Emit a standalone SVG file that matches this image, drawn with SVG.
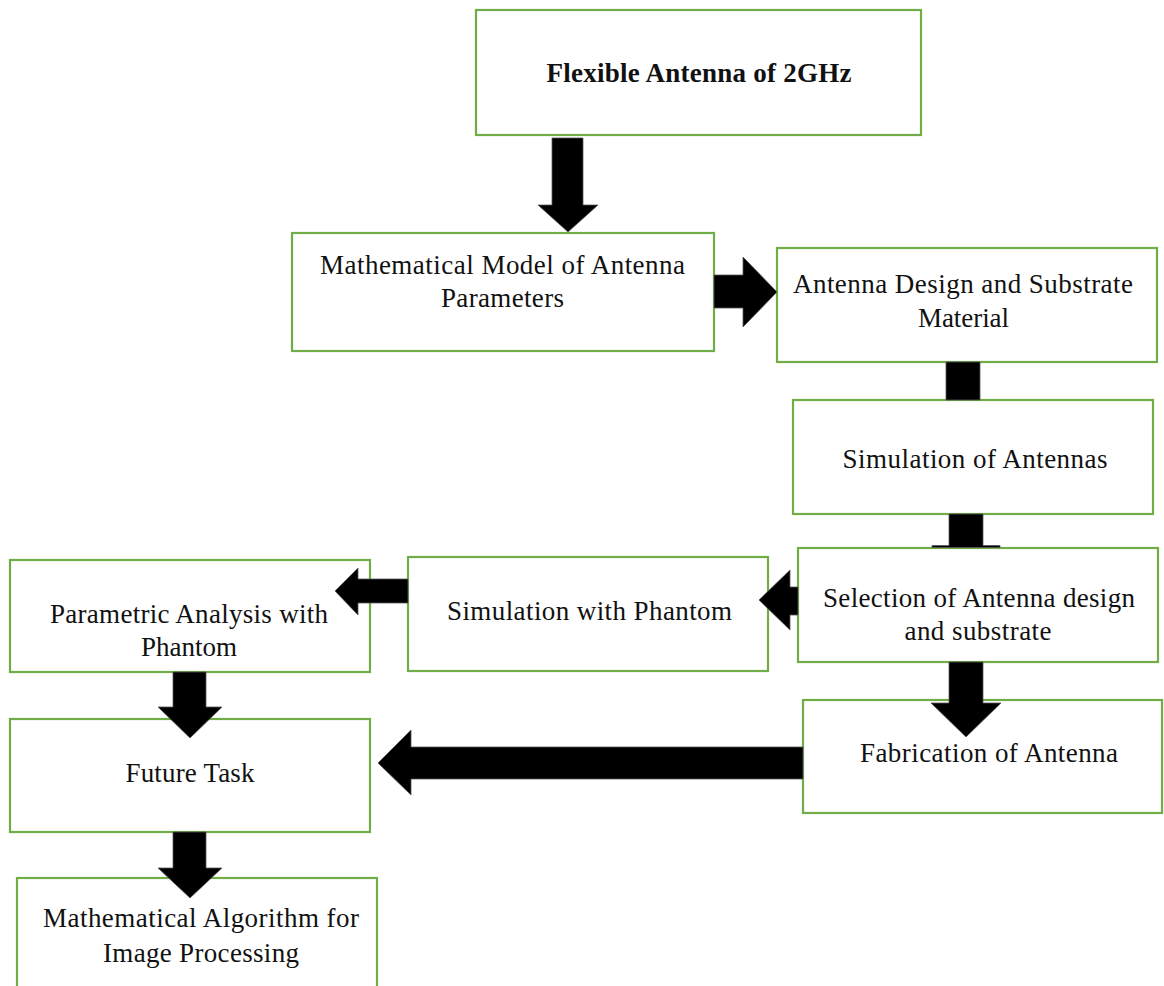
<svg xmlns="http://www.w3.org/2000/svg" width="1164" height="986" viewBox="0 0 1164 986">
<style>
.box{fill:#fff;stroke:#70AD47;stroke-width:2.2}
.t{font-family:"Liberation Serif","Times New Roman",serif;font-size:27px;fill:#111;text-anchor:middle}
.b{font-weight:bold}
.arr{fill:#000;stroke:#555;stroke-width:0.8}
</style>
<rect width="1164" height="986" fill="#fff"/>
<g id="n1"><rect class="box" x="476" y="10" width="445" height="125"/>
<text class="t b" x="699" y="82" textLength="305">Flexible Antenna of 2GHz</text></g>
<g id="n2"><rect class="box" x="292" y="233" width="422" height="118"/>
<text class="t" x="502.5" y="274" textLength="365">Mathematical  Model of Antenna</text>
<text class="t" x="502.5" y="307" textLength="123">Parameters</text></g>
<g id="n3"><rect class="box" x="777" y="248" width="380" height="114"/>
<text class="t" x="963" y="293" textLength="340">Antenna Design and Substrate</text>
<text class="t" x="963.5" y="327" textLength="91">Material</text></g>
<g id="n4"><rect class="box" x="793" y="400" width="360" height="114"/>
<text class="t" x="975" y="468" textLength="265">Simulation of Antennas</text></g>
<g id="n5"><rect class="box" x="798" y="548" width="360" height="114"/>
<text class="t" x="979" y="607" textLength="312">Selection of Antenna design</text>
<text class="t" x="978" y="640" textLength="147">and substrate</text></g>
<g id="n6"><rect class="box" x="408" y="557" width="360" height="114"/>
<text class="t" x="589.5" y="620" textLength="285">Simulation with Phantom</text></g>
<g id="n7"><rect class="box" x="10" y="560" width="360" height="112"/>
<text class="t" x="189" y="623" textLength="278">Parametric Analysis with</text>
<text class="t" x="189" y="656">Phantom</text></g>
<g id="n8"><rect class="box" x="10" y="719" width="360" height="113"/>
<text class="t" x="190" y="782" textLength="129">Future Task</text></g>
<g id="n9"><rect class="box" x="17" y="878" width="360" height="120"/>
<text class="t" x="201" y="927" textLength="316">Mathematical  Algorithm  for</text>
<text class="t" x="201" y="962" textLength="196">Image Processing</text></g>
<g id="n10"><rect class="box" x="803" y="700" width="359" height="113"/>
<text class="t" x="989" y="762" textLength="258">Fabrication of Antenna</text></g>
<g id="connectors">
<polygon class="arr" points="552,138 583,138 583,205 598,205 568,232 538,205 552,205"/>
<polygon class="arr" points="714,275 743,275 743,257 777,292 743,327 743,308 714,308"/>
<rect class="arr" x="946" y="362" width="34" height="38"/>
<polygon class="arr" points="949,514 983,514 983,545.5 1000,545.5 1000,547.5 932,547.5 932,545.5 949,545.5"/>
<polygon class="arr" points="798,587 790,587 790,570 759,600 790,630 790,615 798,615"/>
<polygon class="arr" points="408,579 358,579 358,568 335,591 358,615 358,603 408,603"/>
<polygon class="arr" points="173,672 206,672 206,707 222,707 190,738 158,707 173,707"/>
<polygon class="arr" points="173,832 206,832 206,868 222,868 190,898 158,868 173,868"/>
<polygon class="arr" points="949,662 983,662 983,703 1001,703 966,737 931,703 949,703"/>
<polygon class="arr" points="803,747 411,747 411,730 378,763 411,795 411,779 803,779"/>
</g>
</svg>
